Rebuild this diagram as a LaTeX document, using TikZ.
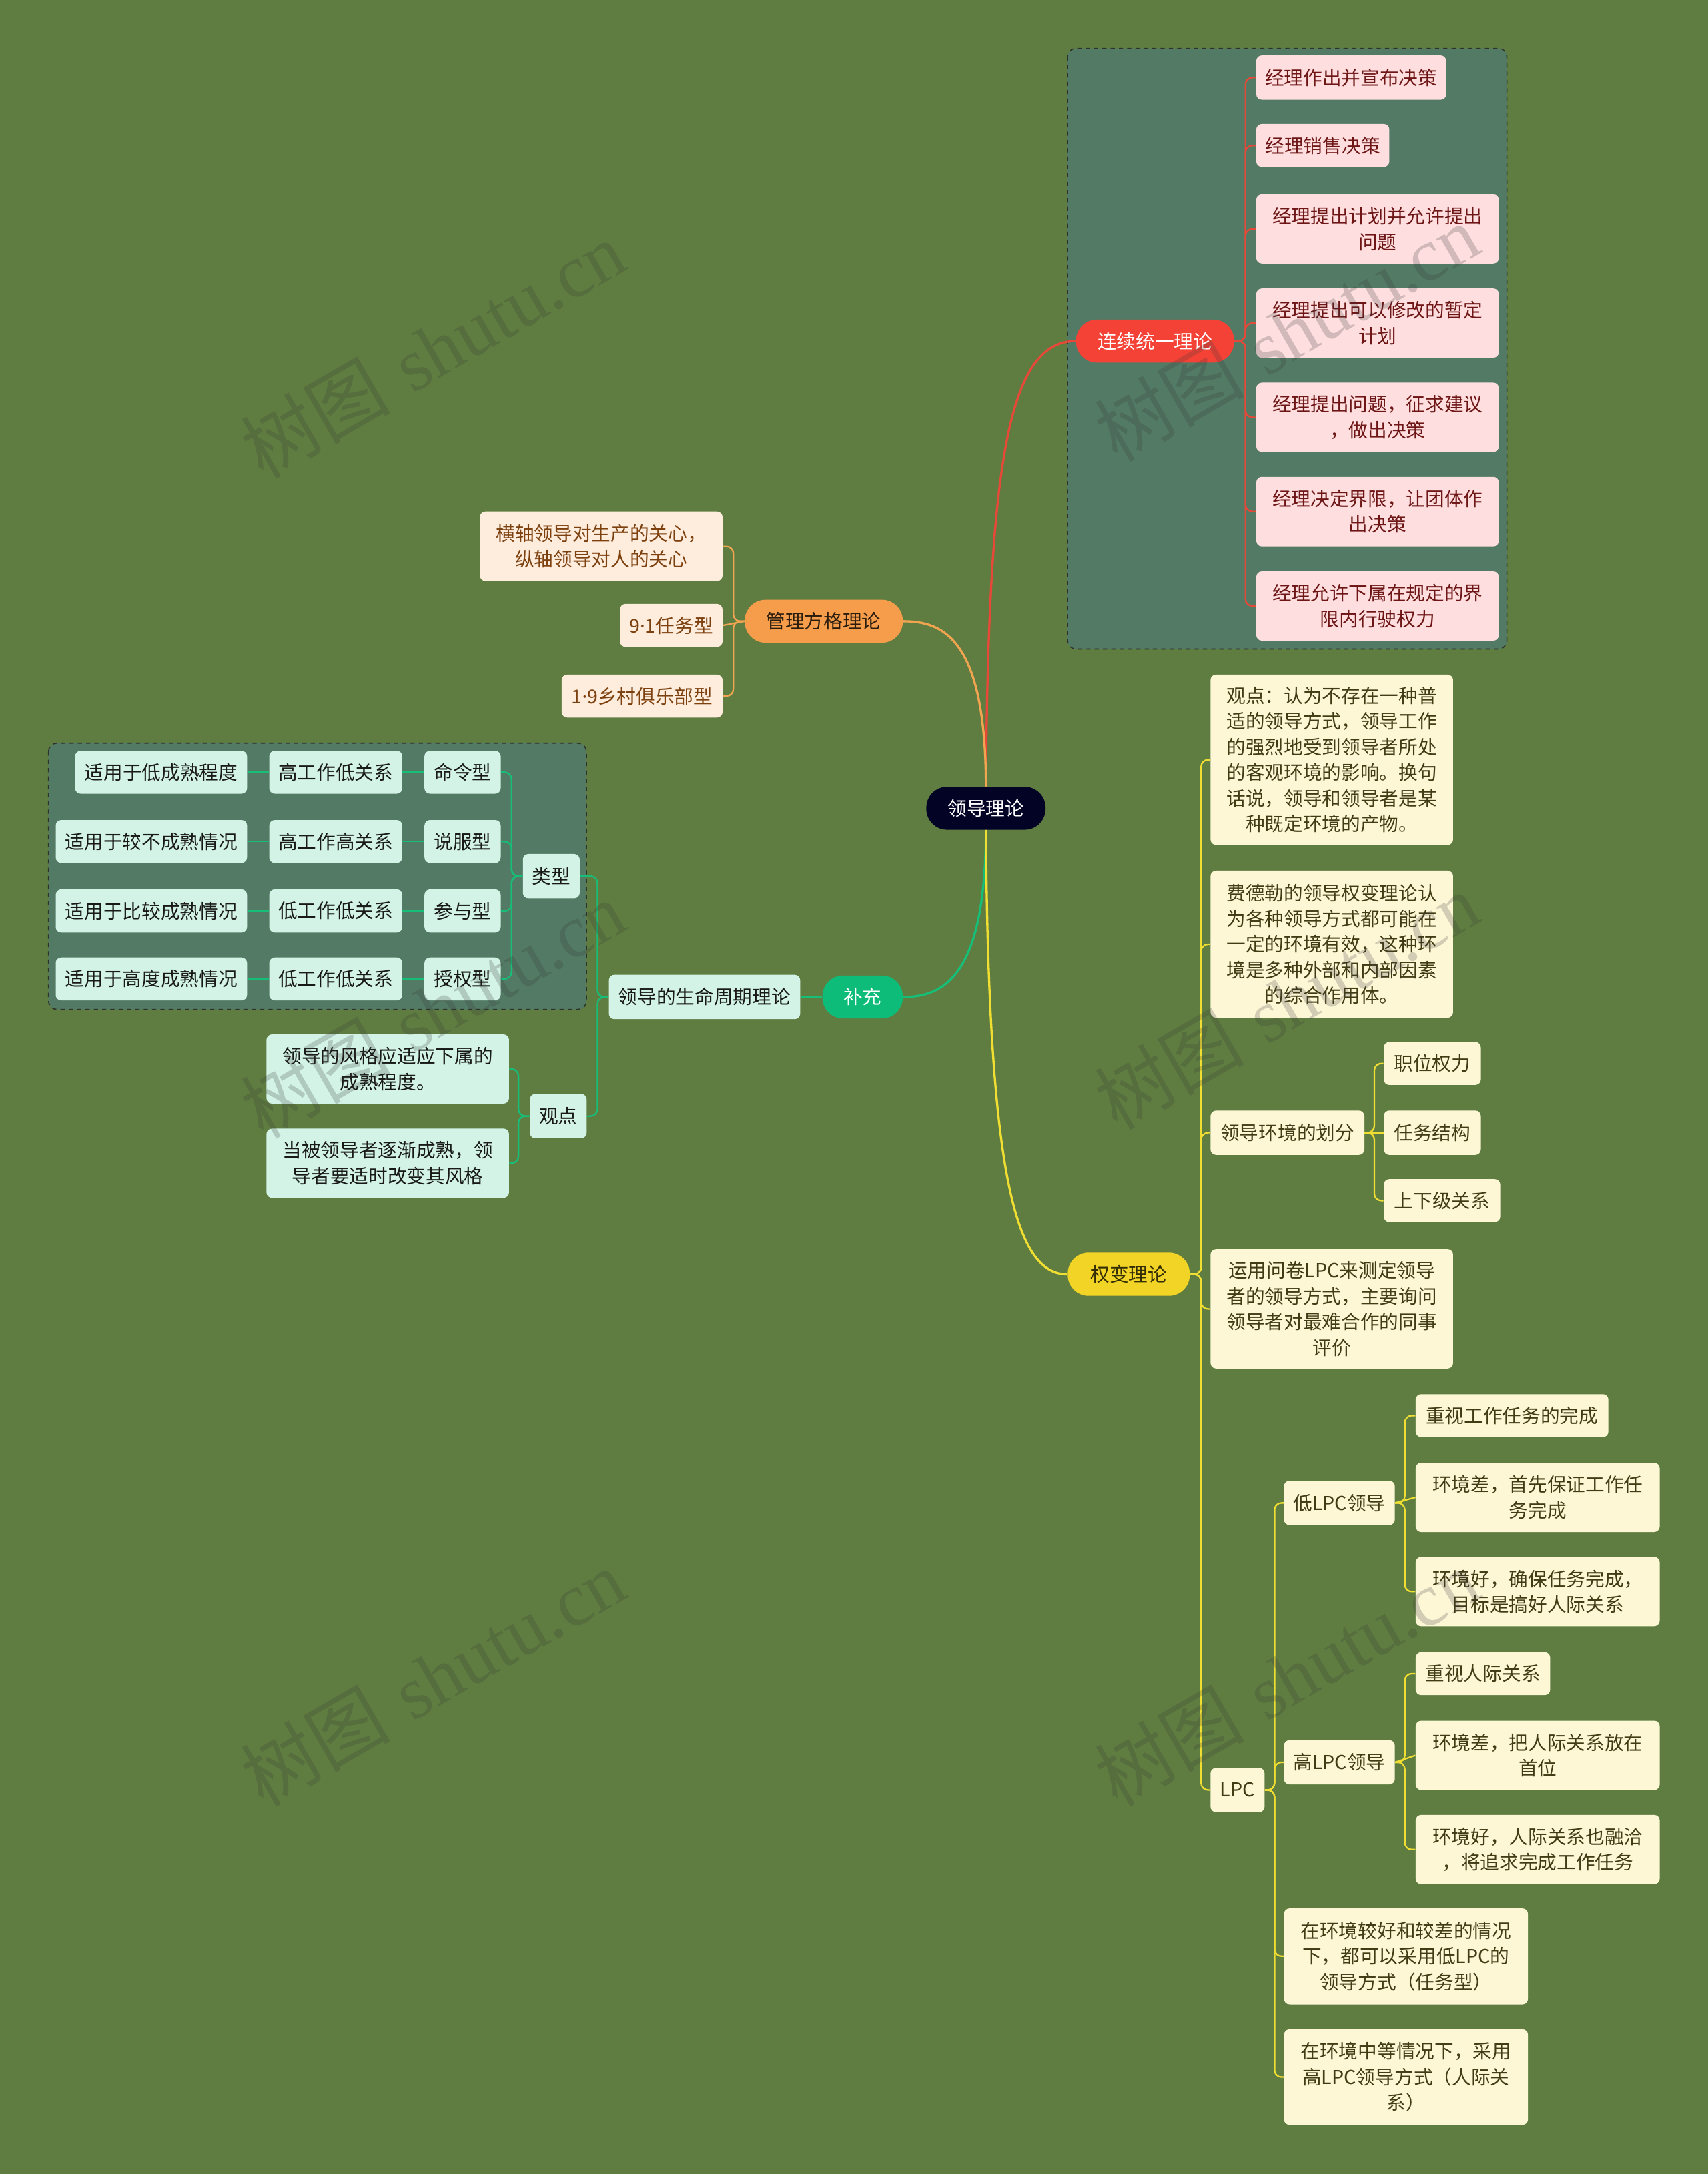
\documentclass[tikz,border=0pt]{standalone}
\usepackage{fontspec}
\newfontfamily\cjk{Noto Sans CJK SC}
\newfontfamily\lat{Noto Sans}
\newfontfamily\wmser{Liberation Serif}
\usetikzlibrary{calc}
\definecolor{bg}{RGB}{95,125,65}
\definecolor{rootf}{RGB}{3,3,38}
\definecolor{redf}{RGB}{244,67,54}
\definecolor{orangef}{RGB}{246,157,76}
\definecolor{greenf}{RGB}{12,188,120}
\definecolor{yellowf}{RGB}{241,212,38}
\definecolor{pinkf}{RGB}{254,222,222}
\definecolor{pinkt}{RGB}{110,22,22}
\definecolor{peachf}{RGB}{254,236,220}
\definecolor{peacht}{RGB}{125,65,15}
\definecolor{mintf}{RGB}{210,243,229}
\definecolor{mintt}{RGB}{25,25,25}
\definecolor{ylwf}{RGB}{253,247,214}
\definecolor{ylwt}{RGB}{65,60,20}
\definecolor{boxf}{RGB}{82,122,100}
\definecolor{boxd}{RGB}{45,50,45}
\definecolor{redl}{RGB}{232,72,56}
\definecolor{orangel}{RGB}{242,165,80}
\definecolor{greenl}{RGB}{22,190,120}
\definecolor{yellowl}{RGB}{240,222,50}
\definecolor{wmc}{RGB}{55,55,55}
\tikzset{
  nb/.style={rounded corners=4pt, inner sep=0pt, align=center, anchor=west,
    font=\cjk\fontsize{13.8}{18.5}\selectfont},
  pill/.style={nb, rounded corners=15pt},
  pinkb/.style={nb, fill=pinkf, text=pinkt},
  peachb/.style={nb, fill=peachf, text=peacht},
  mintb/.style={nb, fill=mintf, text=mintt},
  ylwb/.style={nb, fill=ylwf, text=ylwt},
  dbox/.style={draw=boxd, fill=boxf, dashed, line width=0.8pt, rounded corners=6pt},
  mainl/.style={line width=1.6pt},
  subl/.style={line width=1.1pt, rounded corners=5pt},
  rl/.style={subl, draw=redl},
  ol/.style={subl, draw=orangel},
  gl/.style={subl, draw=greenl},
  yl/.style={subl, draw=yellowl},
  wm/.style={text=wmc, text opacity=0.22, rotate=30, font=\fontsize{54}{56}\selectfont}
}
\begin{document}
\begin{tikzpicture}[x=1pt,y=-1pt]
\fill[bg] (0,0) rectangle (1232,1568);
\useasboundingbox (0,0) rectangle (1232,1568);

% dashed group boxes
\draw[dbox] (770,35) rectangle (1087,468);
\draw[dbox] (35,536) rectangle (423,728);

% root and main branches
\node[pill, fill=rootf, text=white, minimum width=86pt, minimum height=31pt] (root) at (668,583) {领导理论};
\node[pill, fill=redf, text=white, minimum width=114pt, minimum height=31pt] (lx) at (776,246) {连续统一理论};
\node[pill, fill=orangef, text={rgb,255:red,43;green,29;blue,14}, minimum width=114pt, minimum height=31pt] (gl) at (537,448) {管理方格理论};
\node[pill, fill=greenf, text=white, minimum width=58pt, minimum height=31pt] (bc) at (593,719) {补充};
\node[pill, fill=yellowf, text={rgb,255:red,50;green,45;blue,5}, minimum width=88pt, minimum height=31pt] (qb) at (770,919) {权变理论};

% red children
\node[pinkb, minimum width=137pt, minimum height=32pt] (a1) at (906,56) {经理作出并宣布决策};
\node[pinkb, minimum width=96pt, minimum height=31pt] (a2) at (906,105) {经理销售决策};
\node[pinkb, minimum width=175pt, minimum height=50pt] (a3) at (906,165) {经理提出计划并允许提出\\问题};
\node[pinkb, minimum width=175pt, minimum height=50pt] (a4) at (906,233) {经理提出可以修改的暂定\\计划};
\node[pinkb, minimum width=175pt, minimum height=50pt] (a5) at (906,301) {经理提出问题，征求建议\\，做出决策};
\node[pinkb, minimum width=175pt, minimum height=50pt] (a6) at (906,369) {经理决定界限，让团体作\\出决策};
\node[pinkb, minimum width=175pt, minimum height=50pt] (a7) at (906,437) {经理允许下属在规定的界\\限内行驶权力};

% orange children
\node[peachb, minimum width=175pt, minimum height=50pt] (b1) at (346,394) {横轴领导对生产的关心，\\纵轴领导对人的关心};
\node[peachb, minimum width=74pt, minimum height=31pt] (b2) at (447,451) {9{\lat ·}1任务型};
\node[peachb, minimum width=116pt, minimum height=31pt] (b3) at (405,502) {1{\lat ·}9乡村俱乐部型};

% green children
\node[mintb, minimum width=138pt, minimum height=32pt] (c1) at (439,719) {领导的生命周期理论};
\node[mintb, minimum width=41pt, minimum height=32pt] (c2) at (377,632) {类型};
\node[mintb, minimum width=41pt, minimum height=32pt] (c3) at (382,805) {观点};
\node[mintb, minimum width=55pt, minimum height=31pt] (d1) at (306,557) {命令型};
\node[mintb, minimum width=55pt, minimum height=31pt] (d2) at (306,607) {说服型};
\node[mintb, minimum width=55pt, minimum height=31pt] (d3) at (306,657) {参与型};
\node[mintb, minimum width=55pt, minimum height=31pt] (d4) at (306,706) {授权型};
\node[mintb, minimum width=96pt, minimum height=31pt] (e1) at (194,557) {高工作低关系};
\node[mintb, minimum width=96pt, minimum height=31pt] (e2) at (194,607) {高工作高关系};
\node[mintb, minimum width=96pt, minimum height=31pt] (e3) at (194,657) {低工作低关系};
\node[mintb, minimum width=96pt, minimum height=31pt] (e4) at (194,706) {低工作低关系};
\node[mintb, minimum width=124pt, minimum height=31pt] (f1) at (54,557) {适用于低成熟程度};
\node[mintb, minimum width=138pt, minimum height=31pt] (f2) at (40,607) {适用于较不成熟情况};
\node[mintb, minimum width=138pt, minimum height=31pt] (f3) at (40,657) {适用于比较成熟情况};
\node[mintb, minimum width=138pt, minimum height=31pt] (f4) at (40,706) {适用于高度成熟情况};
\node[mintb, minimum width=175pt, minimum height=50pt] (g1) at (192,771) {领导的风格应适应下属的\\成熟程度。};
\node[mintb, minimum width=175pt, minimum height=50pt] (g2) at (192,839) {当被领导者逐渐成熟，领\\导者要适时改变其风格};

% yellow children
\node[ylwb, minimum width=175pt, minimum height=123pt] (h1) at (873,548) {观点：认为不存在一种普\\适的领导方式，领导工作\\的强烈地受到领导者所处\\的客观环境的影响。换句\\话说，领导和领导者是某\\种既定环境的产物。};
\node[ylwb, minimum width=175pt, minimum height=106pt] (h2) at (873,681) {费德勒的领导权变理论认\\为各种领导方式都可能在\\一定的环境有效，这种环\\境是多种外部和内部因素\\的综合作用体。};
\node[ylwb, minimum width=111pt, minimum height=32pt] (h3) at (873,817) {领导环境的划分};
\node[ylwb, minimum width=70pt, minimum height=31pt] (i1) at (998,767) {职位权力};
\node[ylwb, minimum width=70pt, minimum height=32pt] (i2) at (998,817) {任务结构};
\node[ylwb, minimum width=84pt, minimum height=31pt] (i3) at (998,866) {上下级关系};
\node[ylwb, minimum width=175pt, minimum height=86pt] (h4) at (873,944) {运用问卷LPC来测定领导\\者的领导方式，主要询问\\领导者对最难合作的同事\\评价};
\node[ylwb, minimum width=39pt, minimum height=32pt] (h5) at (873,1291) {LPC};
\node[ylwb, minimum width=80pt, minimum height=32pt] (j1) at (926,1084) {低LPC领导};
\node[ylwb, minimum width=80pt, minimum height=32pt] (j2) at (926,1271) {高LPC领导};
\node[ylwb, minimum width=176pt, minimum height=69pt] (j3) at (926,1411) {在环境较好和较差的情况\\下，都可以采用低LPC的\\领导方式（任务型）};
\node[ylwb, minimum width=176pt, minimum height=69pt] (j4) at (926,1498) {在环境中等情况下，采用\\高LPC领导方式（人际关\\系）};
\node[ylwb, minimum width=139pt, minimum height=31pt] (k1) at (1021,1021) {重视工作任务的完成};
\node[ylwb, minimum width=176pt, minimum height=50pt] (k2) at (1021,1080) {环境差，首先保证工作任\\务完成};
\node[ylwb, minimum width=176pt, minimum height=50pt] (k3) at (1021,1148) {环境好，确保任务完成，\\目标是搞好人际关系};
\node[ylwb, minimum width=97pt, minimum height=31pt] (l1) at (1021,1207) {重视人际关系};
\node[ylwb, minimum width=176pt, minimum height=50pt] (l2) at (1021,1266) {环境差，把人际关系放在\\首位};
\node[ylwb, minimum width=176pt, minimum height=50pt] (l3) at (1021,1334) {环境好，人际关系也融洽\\，将追求完成工作任务};

% main connectors
\draw[mainl, draw=redl] (root.north) .. controls (713,330) and (728,246) .. (lx.west);
\draw[mainl, draw=orangel] (root.north) .. controls (711,460) and (680,448) .. (gl.east);
\draw[mainl, draw=greenl] (root.south) .. controls (711,705) and (680,719) .. (bc.east);
\draw[mainl, draw=yellowl] (root.south) .. controls (713,860) and (735,919) .. (qb.west);

% red sub connectors
\foreach \c in {a1,a2,a3,a4,a5,a6,a7}
  \draw[rl] (lx.east) -- ++(8,0) |- (\c.west);

% orange sub connectors
\draw[ol] (gl.west) -- ++(-8,0) |- (b1.east);
\draw[ol] (gl.west) -- (b2.east);
\draw[ol] (gl.west) -- ++(-8,0) |- (b3.east);

% green sub connectors
\draw[gl] (bc.west) -- (c1.east);
\draw[gl] (c1.west) -- ++(-8,0) |- (c2.east);
\draw[gl] (c1.west) -- ++(-8,0) |- (c3.east);
\foreach \c in {d1,d2,d3,d4}
  \draw[gl] (c2.west) -- ++(-8,0) |- (\c.east);
\draw[gl] (d1.west) -- (e1.east);
\draw[gl] (d2.west) -- (e2.east);
\draw[gl] (d3.west) -- (e3.east);
\draw[gl] (d4.west) -- (e4.east);
\draw[gl] (e1.west) -- (f1.east);
\draw[gl] (e2.west) -- (f2.east);
\draw[gl] (e3.west) -- (f3.east);
\draw[gl] (e4.west) -- (f4.east);
\draw[gl] (c3.west) -- ++(-8,0) |- (g1.east);
\draw[gl] (c3.west) -- ++(-8,0) |- (g2.east);

% yellow sub connectors
\foreach \c in {h1,h2,h3,h4,h5}
  \draw[yl] (qb.east) -- ++(8,0) |- (\c.west);
\draw[yl] (h3.east) -- ++(7,0) |- (i1.west);
\draw[yl] (h3.east) -- (i2.west);
\draw[yl] (h3.east) -- ++(7,0) |- (i3.west);
\foreach \c in {j1,j2,j3,j4}
  \draw[yl] (h5.east) -- ++(7,0) |- (\c.west);
\draw[yl] (j1.east) -- ++(7,0) |- (k1.west);
\draw[yl] (j1.east) -- (k2.west);
\draw[yl] (j1.east) -- ++(7,0) |- (k3.west);
\draw[yl] (j2.east) -- ++(7,0) |- (l1.west);
\draw[yl] (j2.east) -- (l2.west);
\draw[yl] (j2.east) -- ++(7,0) |- (l3.west);

% watermarks
\foreach \p in {(312,252),(928,240),(312,728),(928,722),(312,1210),(928,1210)}
  \node[wm] at \p {{\cjk 树图} {\wmser shutu.cn}};
\end{tikzpicture}
\end{document}
